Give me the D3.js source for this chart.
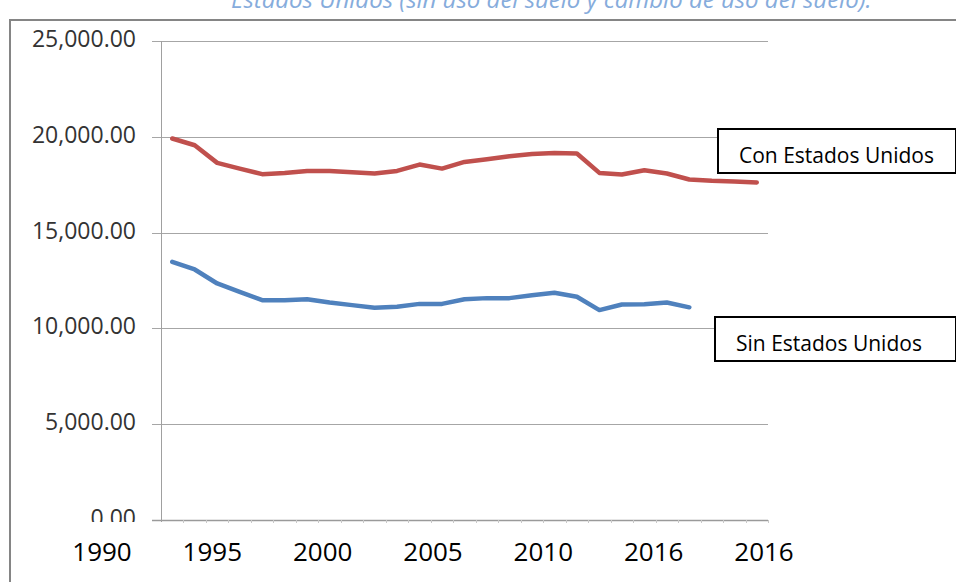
<!DOCTYPE html>
<html>
<head>
<meta charset="utf-8">
<script src="https://cdn.jsdelivr.net/npm/d3@7"></script>
<style>
  html, body { margin: 0; padding: 0; background: #ffffff; }
  svg { display: block; }
</style>
</head>
<body>
<svg id="chart" width="956" height="582"></svg>
<script>
// Emissions series (thousand units), one value per year
const years = d3.range(1990, 2017);
const conEstadosUnidos = [
  19910, 19560, 18640, 18340, 18050, 18115, 18220, 18220, 18150, 18085,
  18220, 18550, 18340, 18690, 18830, 18985, 19105, 19160, 19125, 18115,
  18030, 18255, 18085, 17770, 17700, 17665, 17615
];
const sinEstadosUnidos = [
  13475, 13075, 12345, 11910, 11475, 11475, 11525, 11350, 11215, 11075,
  11125, 11280, 11280, 11525, 11580, 11580, 11735, 11860, 11650, 10955,
  11250, 11265, 11355, 11100
];
const yTicks = [0, 5000, 10000, 15000, 20000, 25000];
const xTickLabels = ["1990", "1995", "2000", "2005", "2010", "2016", "2016"];
const titleText = "Estados Unidos (sin uso del suelo y cambio de uso del suelo).";
const seriesNames = ["Con Estados Unidos", "Sin Estados Unidos"];

const svg = d3.select("#chart");
const font = "'Open Sans', 'Noto Sans', sans-serif";

const plot = { left: 161, right: 768, top: 41, bottom: 520 };

const x = d3.scaleBand().domain(years).range([plot.left, plot.right]);
const y = d3.scaleLinear().domain([0, 25000]).range([plot.bottom, plot.top]);
const xLabel = d3.scalePoint().domain(d3.range(xTickLabels.length)).range([102, 764]);

// Caption, running off the top edge
svg.append("text")
  .attr("x", 231).attr("y", 8)
  .attr("font-family", font)
  .attr("font-style", "italic")
  .attr("font-size", 24)
  .attr("fill", "#86acdc")
  .text(titleText);

// Outer frame (top and left edges)
svg.append("path")
  .attr("d", "M10,582 V20 H956")
  .attr("fill", "none")
  .attr("stroke", "#858585")
  .attr("stroke-width", 2);

// Horizontal gridlines with short ticks on the value axis
const grid = svg.append("g");
grid.selectAll("line")
  .data(yTicks)
  .join("line")
  .attr("x1", plot.left - 9)
  .attr("x2", plot.right)
  .attr("y1", d => Math.round(y(d)) + 0.5)
  .attr("y2", d => Math.round(y(d)) + 0.5)
  .attr("stroke", d => d === 0 ? "#9a9a9a" : "#a6a6a6")
  .attr("stroke-width", d => d === 0 ? 1.5 : 1);

// Value axis line
svg.append("line")
  .attr("x1", plot.left + 0.5).attr("x2", plot.left + 0.5)
  .attr("y1", plot.top).attr("y2", plot.bottom + 2)
  .attr("stroke", "#a0a0a0");

// Category tick marks along the bottom
svg.append("g").selectAll("line")
  .data(years.slice(1).concat([null]))
  .join("line")
  .attr("x1", (d, i) => Math.round(x(years[0]) + x.step() * (i + 1)) + 0.5)
  .attr("x2", (d, i) => Math.round(x(years[0]) + x.step() * (i + 1)) + 0.5)
  .attr("y1", plot.bottom)
  .attr("y2", plot.bottom + 3)
  .attr("stroke", "#c8c8c8");

// Value labels, cut off just below the baseline
svg.append("defs").append("clipPath").attr("id", "yclip")
  .append("rect").attr("x", 0).attr("y", 0).attr("width", 160).attr("height", 522);

const fmt = d3.format(",.2f");
svg.append("g").attr("clip-path", "url(#yclip)")
  .selectAll("text")
  .data(yTicks)
  .join("text")
  .attr("x", 136)
  .attr("y", d => y(d) + 6)
  .attr("text-anchor", "end")
  .attr("font-family", font)
  .attr("font-size", 23)
  .attr("fill", "#333333")
  .text(d => fmt(d));

// Year labels
svg.append("g").selectAll("text")
  .data(xTickLabels)
  .join("text")
  .attr("x", (d, i) => xLabel(i))
  .attr("y", 561)
  .attr("text-anchor", "middle")
  .attr("font-family", font)
  .attr("font-size", 26)
  .attr("fill", "#000000")
  .text(d => d);

// Series lines
const line = d3.line()
  .x((d, i) => x(years[i]) + x.bandwidth() / 2)
  .y(d => y(d));

svg.append("path")
  .datum(conEstadosUnidos)
  .attr("d", line)
  .attr("fill", "none")
  .attr("stroke", "#c0504d")
  .attr("stroke-width", 4.5)
  .attr("stroke-linejoin", "round")
  .attr("stroke-linecap", "round");

svg.append("path")
  .datum(sinEstadosUnidos)
  .attr("d", line)
  .attr("fill", "none")
  .attr("stroke", "#4f81bd")
  .attr("stroke-width", 4.5)
  .attr("stroke-linejoin", "round")
  .attr("stroke-linecap", "round");

// Series name boxes
const boxes = [
  { name: seriesNames[0], x: 718, y: 129, w: 238, h: 44 },
  { name: seriesNames[1], x: 715, y: 317, w: 241, h: 44 }
];
const box = svg.append("g").selectAll("g")
  .data(boxes)
  .join("g");
box.append("rect")
  .attr("x", d => d.x).attr("y", d => d.y)
  .attr("width", d => d.w).attr("height", d => d.h)
  .attr("fill", "#ffffff")
  .attr("stroke", "#000000")
  .attr("stroke-width", 2);
box.append("text")
  .attr("x", d => d.x + 21)
  .attr("y", d => d.y + 34)
  .attr("font-family", font)
  .attr("font-size", 21)
  .attr("fill", "#000000")
  .text(d => d.name);
</script>
</body>
</html>
